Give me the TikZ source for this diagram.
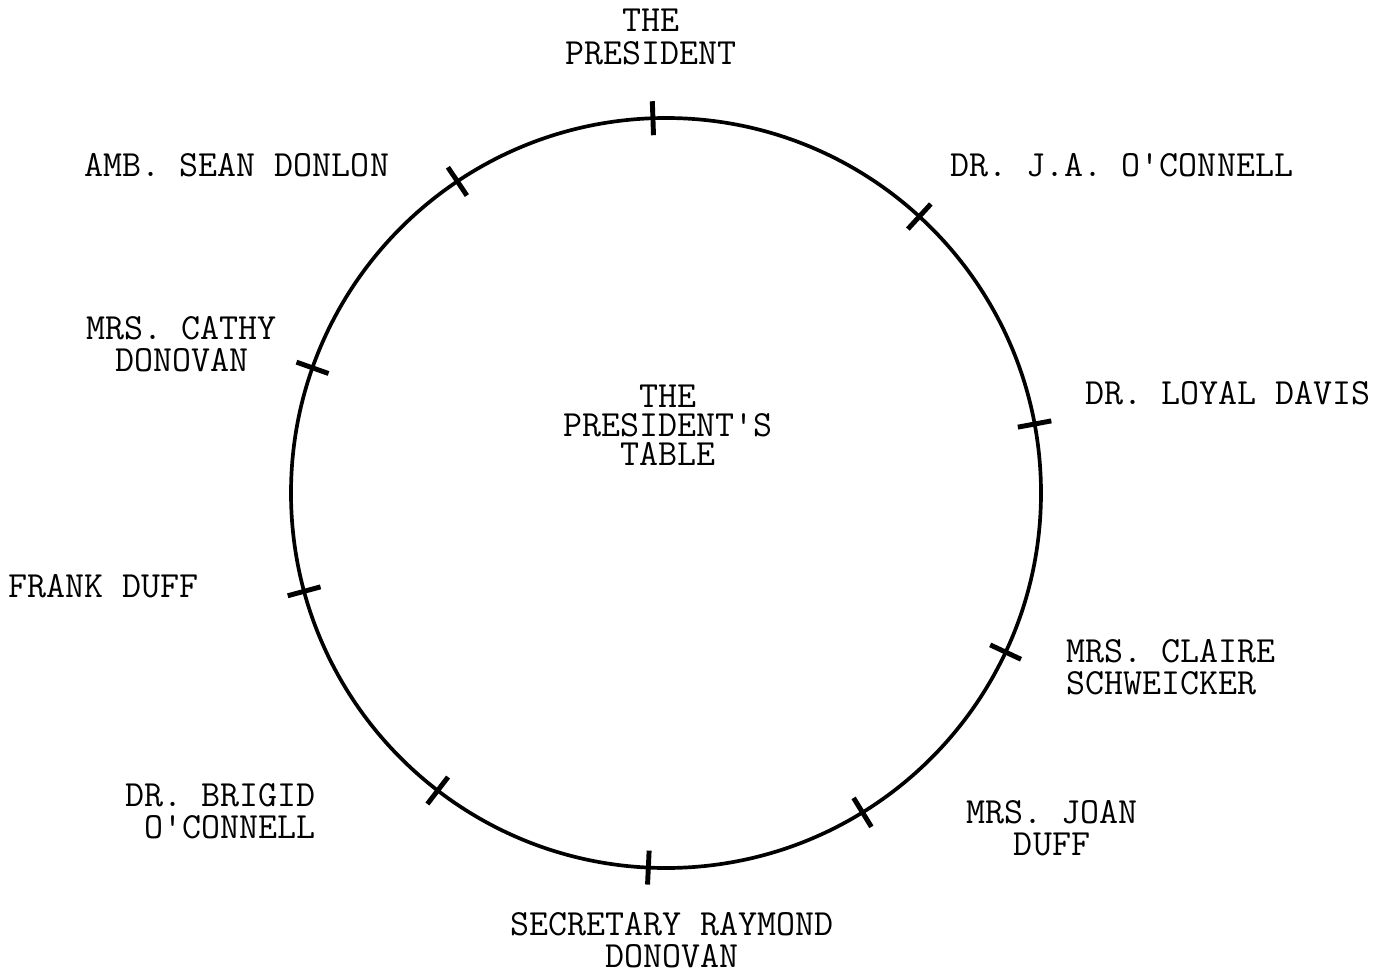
\documentclass[tikz,border=0pt]{standalone}
\begin{document}
\begin{tikzpicture}[
    guest/.style={inner sep=0pt, align=center, font=\ttfamily\fontsize{21}{18.3}\selectfont},
    seatmark/.style={line width=2.8pt}
]
    % --- НАСТРОЙКИ ---
    \def\R{7.5}   % Радиус стола
    \def\T{0.34}  % Половина длины засечки места

    % Поля картинки
    \useasboundingbox (-13.32,-9.62) rectangle (14.46,9.86);

    % --- СТОЛ ---
    \draw[line width=2.1pt] (0,0) circle (\R);
    \node[guest, font=\ttfamily\fontsize{21}{16.4}\selectfont] (table) at (0.04,1.36) {THE\\PRESIDENT'S\\TABLE};

    % --- ЗАСЕЧКИ МЕСТ ---
    \draw[seatmark] (92:{\R-\T}) -- (92:{\R+\T});       % президент
    \draw[seatmark] (47.5:{\R-\T}) -- (47.5:{\R+\T});
    \draw[seatmark] (10.6:{\R-\T}) -- (10.6:{\R+\T});
    \draw[seatmark] (-25.1:{\R-\T}) -- (-25.1:{\R+\T});
    \draw[seatmark] (-58.4:{\R-\T}) -- (-58.4:{\R+\T});
    \draw[seatmark] (267.3:{\R-\T}) -- (267.3:{\R+\T}); % низ
    \draw[seatmark] (232.5:{\R-\T}) -- (232.5:{\R+\T});
    \draw[seatmark] (195.2:{\R-\T}) -- (195.2:{\R+\T});
    \draw[seatmark] (160.5:{\R-\T}) -- (160.5:{\R+\T});
    \draw[seatmark] (123.8:{\R-\T}) -- (123.8:{\R+\T});

    % --- ГОСТИ (по часовой стрелке) ---
    \node[guest] (president) at (-0.30,9.12) {THE\\PRESIDENT};
    \node[guest] (jaoconnell) at (9.12,6.56) {DR. J.A. O'CONNELL};
    \node[guest] (davis) at (11.24,2.0) {DR. LOYAL DAVIS};
    \node[guest, anchor=west, align=left] (schweicker) at (8.0,-3.48) {MRS. CLAIRE\\SCHWEICKER};
    \node[guest] (joanduff) at (7.72,-6.70) {MRS. JOAN\\DUFF};
    \node[guest] (rdonovan) at (0.12,-8.95) {SECRETARY RAYMOND\\DONOVAN};
    \node[guest, anchor=east, align=right] (brigid) at (-7.0,-6.36) {DR. BRIGID\\O'CONNELL};
    \node[guest] (frankduff) at (-11.24,-1.86) {FRANK DUFF};
    \node[guest] (cdonovan) at (-9.68,2.98) {MRS. CATHY\\DONOVAN};
    \node[guest] (donlon) at (-8.58,6.56) {AMB. SEAN DONLON};

\end{tikzpicture}
\end{document}
